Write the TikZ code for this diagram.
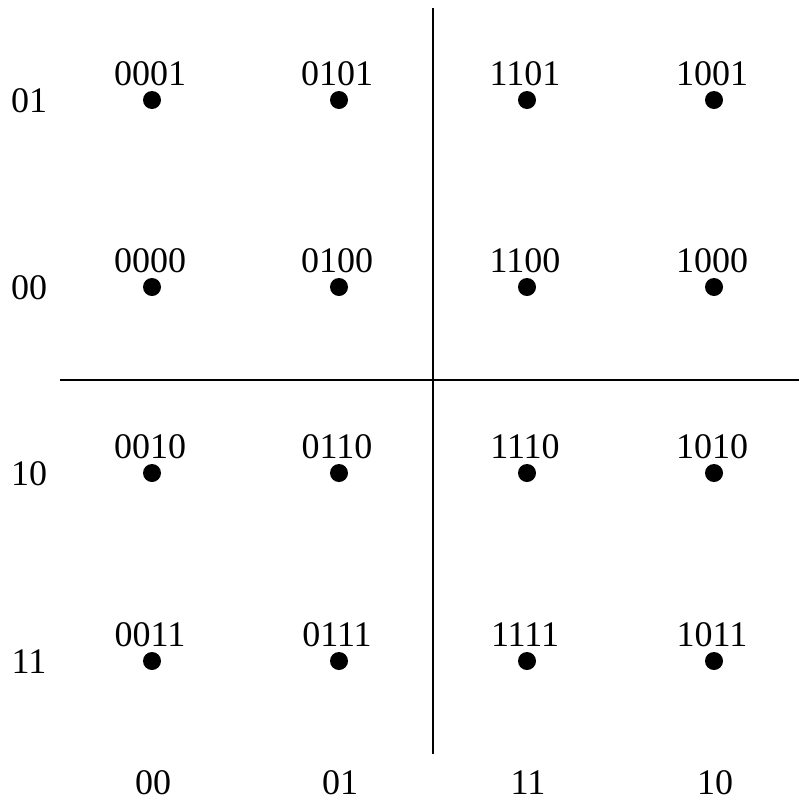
\documentclass[tikz,border=0pt]{standalone}
\usepackage{fontspec}
\setmainfont{Liberation Serif}
\begin{document}
\begin{tikzpicture}[x=1pt,y=-1pt,
  dot/.style={circle,fill=black,inner sep=0pt,minimum size=18pt},
  lbl/.style={anchor=base,inner sep=0pt,text depth=0pt,font=\fontsize{36}{42}\selectfont},
  axis/.style={line width=1.8pt}]
\useasboundingbox (0,0) rectangle (799,801);
\foreach \cx/\cc/\ci in {152/00/1,339/01/2,527/11/3,714/10/4}{
  \foreach \ry/\rc/\ri in {100/01/1,287/00/2,473/10/3,661/11/4}{
    \node[dot] (d\ci\ri) at (\cx,\ry) {};
    \node[lbl] (t\ci\ri) at (\cx-2,\ry-14.5) {\cc\rc};
  }
  \node[lbl] (c\ci) at (\cx+1,794) {\cc};
}
\foreach \ry/\rc/\ri in {100/01/1,287/00/2,473/10/3,661/11/4}{
  \node[lbl] (r\ri) at (29,\ry+12) {\rc};
}
\coordinate (vt) at (433,8);
\coordinate (vb) at (433,754);
\coordinate (hl) at (60,380);
\coordinate (hr) at (799,380);
\draw[axis] (vt) -- (vb);
\draw[axis] (hl) -- (hr);
\end{tikzpicture}
\end{document}
